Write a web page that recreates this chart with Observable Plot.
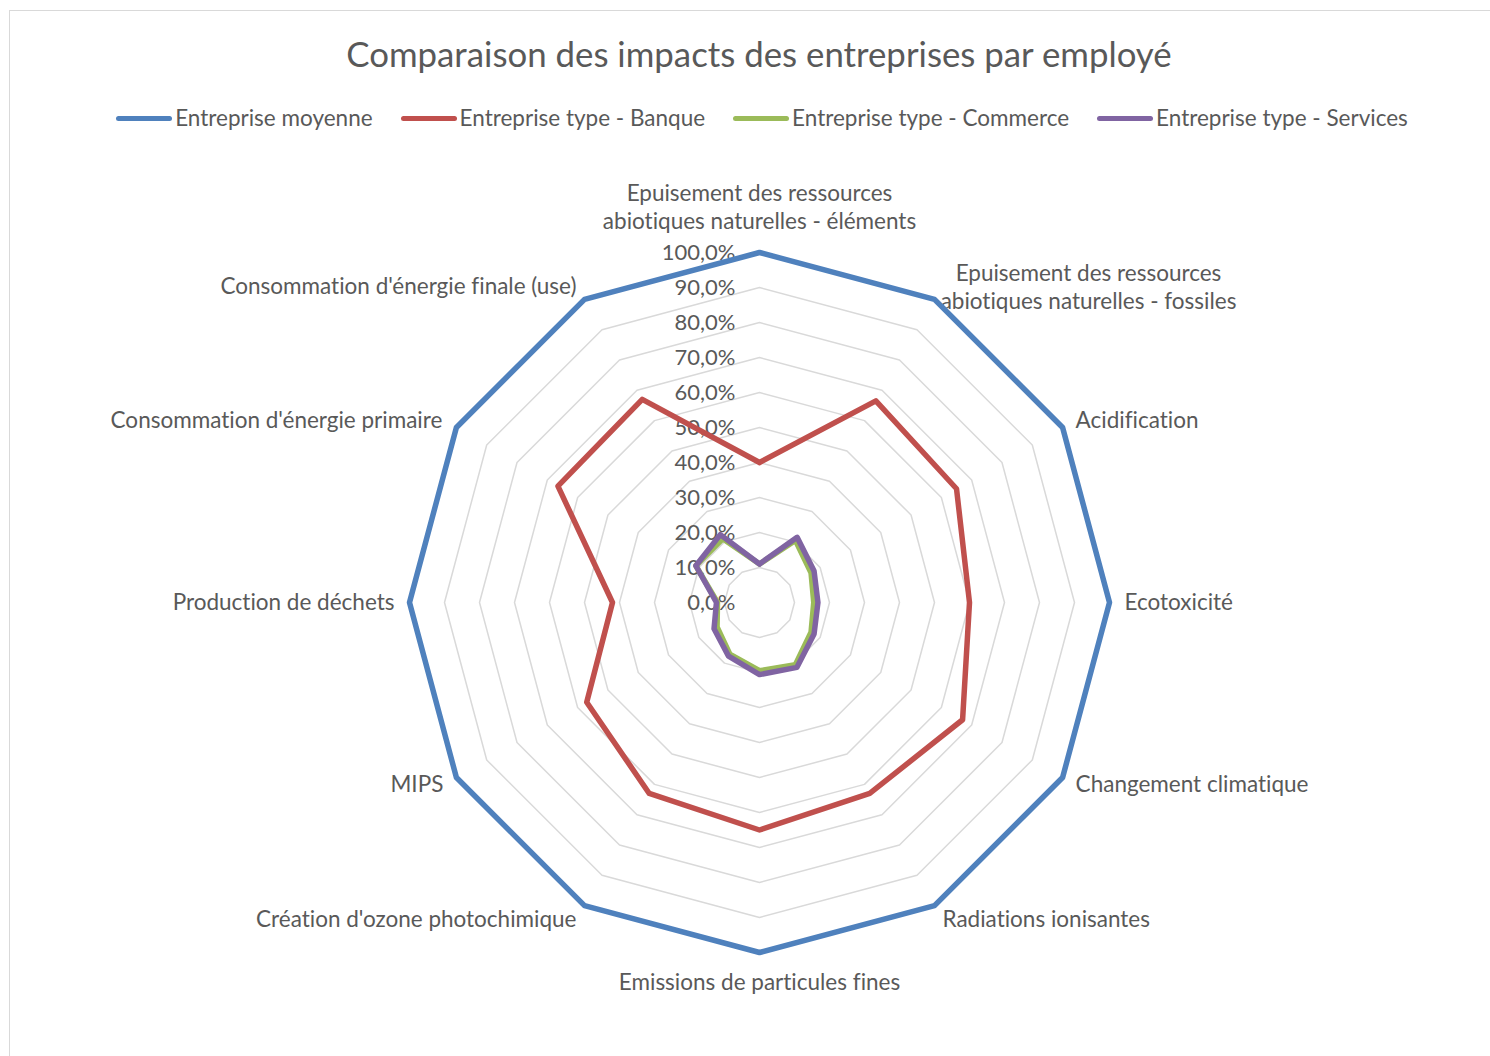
<!DOCTYPE html>
<html>
<head>
<meta charset="utf-8">
<script src="https://cdn.jsdelivr.net/npm/d3@7"></script>
<script src="https://cdn.jsdelivr.net/npm/@observablehq/plot@0.6"></script>
<style>
  html, body { margin: 0; padding: 0; background: #fff; }
  body { width: 1490px; height: 1056px; position: relative; overflow: hidden; font-family: Lato, "Open Sans", sans-serif; color: #595959; font-variant-ligatures: none; }
  #frame { position: absolute; left: 9px; top: 10px; width: 1500px; height: 1100px; border: 1.5px solid #d9d9d9; box-sizing: border-box; }
  #title { position: absolute; left: 0; width: 1518px; top: 33px; text-align: center; font-size: 34.8px; line-height: 42px; white-space: nowrap; }
  #legend { position: absolute; left: 0; width: 1524px; top: 103px; display: flex; justify-content: center; gap: 28px; font-size: 22.5px; line-height: 30px; }
  .item { display: flex; align-items: center; white-space: nowrap; }
  .sw { width: 56px; height: 5px; border-radius: 3px; margin-right: 3px; }
  #chart { position: absolute; left: 10px; top: 150px; }
  #chart svg text { font-variant-ligatures: none; }
</style>
</head>
<body>
<div id="frame"></div>
<div id="title"></div>
<div id="legend"></div>
<div id="chart"></div>
<script>
// ---- Data ----
const titleText = "Comparaison des impacts des entreprises par employé";
const categories = [
  "Epuisement des ressources\nabiotiques naturelles - éléments",
  "Epuisement des ressources\nabiotiques naturelles - fossiles",
  "Acidification",
  "Ecotoxicité",
  "Changement climatique",
  "Radiations ionisantes",
  "Emissions de particules fines",
  "Création d'ozone photochimique",
  "MIPS",
  "Production de déchets",
  "Consommation d'énergie primaire",
  "Consommation d'énergie finale (use)"
];
const seriesNames = [
  "Entreprise moyenne",
  "Entreprise type - Banque",
  "Entreprise type - Commerce",
  "Entreprise type - Services"
];
const seriesColors = ["#4f81bd", "#c0504d", "#9bbb59", "#8064a2"];
const moyenne  = [100, 100, 100, 100, 100, 100, 100, 100, 100, 100, 100, 100];
const banque   = [40, 66.5, 65, 60, 67, 63, 65, 63, 57, 42, 66.5, 67];
const commerce = [11, 20.5, 17, 15.5, 17, 20.5, 19.5, 17, 14, 12, 21, 21];
const services = [11, 21.5, 18, 16.7, 18, 21.4, 20.6, 17.7, 15, 12.3, 21, 22.4];
const tickValues = [0, 10, 20, 30, 40, 50, 60, 70, 80, 90, 100];
const tickLabels = ["0,0%", "10,0%", "20,0%", "30,0%", "40,0%", "50,0%", "60,0%", "70,0%", "80,0%", "90,0%", "100,0%"];

// ---- Build tables ----
const N = categories.length;
const ang = i => (i % N) * 2 * Math.PI / N;
const seriesValues = [moyenne, banque, commerce, services];
const rows = [];
seriesValues.forEach((vals, s) => {
  for (let i = 0; i <= N; i++) {
    const v = vals[i % N];
    rows.push({series: seriesNames[s], x: v * Math.sin(ang(i)), y: v * Math.cos(ang(i))});
  }
});
const rings = [];
tickValues.filter(t => t > 0).forEach(t => {
  for (let i = 0; i <= N; i++) rings.push({ring: t, x: t * Math.sin(ang(i)), y: t * Math.cos(ang(i))});
});
const catRows = categories.map((c, i) => ({label: c, i, x: 100 * Math.sin(ang(i)), y: 100 * Math.cos(ang(i))}));

// label placement (pixel offsets from each axis end)
const place = [
  {a: "middle", dx: 0, dy: -46},
  {a: "middle", dx: 154, dy: -13},
  {a: "start", dx: 13, dy: -8},
  {a: "start", dx: 15, dy: -1},
  {a: "start", dx: 13, dy: 6},
  {a: "start", dx: 8, dy: 12},
  {a: "middle", dx: 0, dy: 29},
  {a: "end", dx: -8, dy: 12},
  {a: "end", dx: -13, dy: 6},
  {a: "end", dx: -15, dy: -1},
  {a: "end", dx: -14, dy: -8},
  {a: "end", dx: -8, dy: -14}
];

// ---- Title & legend ----
document.getElementById("title").textContent = titleText;
const leg = document.getElementById("legend");
seriesNames.forEach((n, i) => {
  const it = document.createElement("div"); it.className = "item";
  const sw = document.createElement("div"); sw.className = "sw"; sw.style.background = seriesColors[i];
  const tx = document.createElement("span"); tx.textContent = n;
  it.appendChild(sw); it.appendChild(tx); leg.appendChild(it);
});

// ---- Plot ----
const W = 1480, H = 890;
const cx = 759 - 10, cy = 602 - 150, R = 350;
const labelMarks = place.map((p, i) => Plot.text(catRows.filter(d => d.i === i), {
  x: "x", y: "y", text: "label", textAnchor: p.a, dx: p.dx, dy: p.dy,
  fontSize: 22.5, lineHeight: 1.245, fill: "#595959"
}));

const chart = Plot.plot({
  width: W, height: H, margin: 0,
  style: {fontFamily: "Lato, 'Open Sans', sans-serif", background: "transparent", overflow: "visible"},
  x: {domain: [0, 100], range: [cx, cx + R], axis: null},
  y: {domain: [0, 100], range: [cy, cy - R], axis: null},
  color: {domain: seriesNames, range: seriesColors},
  marks: [
    Plot.line(rings, {x: "x", y: "y", z: "ring", stroke: "#d9d9d9", strokeWidth: 1.5}),
    Plot.text(tickValues, {x: 0, y: d => d, text: (d, i) => tickLabels[i], textAnchor: "end", dx: -24, fontSize: 22, fill: "#595959"}),
    ...labelMarks,
    Plot.line(rows, {x: "x", y: "y", z: "series", stroke: "series", strokeWidth: 5.5, strokeLinejoin: "round", strokeLinecap: "round"})
  ]
});
document.getElementById("chart").appendChild(chart);
</script>
</body>
</html>
